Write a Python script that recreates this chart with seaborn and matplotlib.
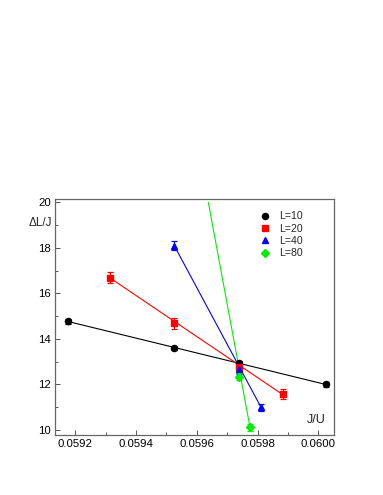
import numpy as np
import pandas as pd
import seaborn as sns
import matplotlib
matplotlib.use("Agg")
import matplotlib.pyplot as plt

# datos
x_L10 = [0.059176, 0.059524, 0.059738, 0.060024]
y_L10 = [14.77, 13.60, 12.93, 12.00]
e_L10 = [0.12, 0.09, 0.10, 0.10]

x_L20 = [0.059314, 0.059524, 0.059738, 0.059882]
y_L20 = [16.69, 14.68, 12.76, 11.56]
e_L20 = [0.24, 0.24, 0.24, 0.22]

x_L40 = [0.059526, 0.059738, 0.059811]
y_L40 = [18.10, 12.66, 11.00]
e_L40 = [0.20, 0.20, 0.16]

x_L80 = [0.059738, 0.059775]
y_L80 = [12.35, 10.11]
e_L80 = [0.16, 0.14]

# extremos de las rectas de ajuste
fit_x = {"L=10": [0.059176, 0.060024], "L=20": [0.059314, 0.059882],
         "L=40": [0.059526, 0.059811], "L=80": [0.059638, 0.059775]}
fit_y = {"L=10": [14.77, 12.00], "L=20": [16.69, 11.56],
         "L=40": [18.10, 11.00], "L=80": [20.0, 10.11]}

series = ["L=10", "L=20", "L=40", "L=80"]
colores = {"L=10": "black", "L=20": "#ff0000", "L=40": "#0000ff", "L=80": "#00ee00"}
marcadores = {"L=10": "o", "L=20": "s", "L=40": "^", "L=80": "D"}
tam = {"L=10": 4.4, "L=20": 4.6, "L=40": 4.6, "L=80": 3.6}

datos = pd.DataFrame({
    "J/U": x_L10 + x_L20 + x_L40 + x_L80,
    "dL": y_L10 + y_L20 + y_L40 + y_L80,
    "err": e_L10 + e_L20 + e_L40 + e_L80,
    "L": ["L=10"] * len(x_L10) + ["L=20"] * len(x_L20) + ["L=40"] * len(x_L40) + ["L=80"] * len(x_L80),
})

sns.set_style("ticks")
plt.rcParams["font.family"] = ["Liberation Sans", "DejaVu Sans"]

fig = plt.figure(figsize=(3.83, 4.95), dpi=100)
ax = fig.add_axes([55 / 383, 1 - 435 / 495, (334 - 55) / 383, (435 - 199) / 495])

for s in series:
    ax.plot(fit_x[s], fit_y[s], color=colores[s], lw=0.8, zorder=2)
    d = datos[datos["L"] == s]
    ax.errorbar(d["J/U"], d["dL"], yerr=d["err"], fmt="none", ecolor=colores[s],
                elinewidth=0.8, capsize=2.2, capthick=0.9, zorder=3)
    ax.plot(d["J/U"], d["dL"], ls="none", marker=marcadores[s], ms=tam[s],
            color=colores[s], zorder=4, label=s)

ax.set_xlim(0.059134, 0.060051)
ax.set_ylim(9.78, 20.15)
ax.set_xticks([0.0592, 0.0594, 0.0596, 0.0598, 0.0600])
ax.set_xticklabels(["0.0592", "0.0594", "0.0596", "0.0598", "0.0600"])
ax.set_xticks(np.arange(0.0593, 0.06, 0.0002), minor=True)
ax.set_yticks([10, 12, 14, 16, 18, 20])
ax.set_yticks([11, 13, 15, 17, 19], minor=True)

ax.tick_params(which="both", direction="in", labelsize=8.2, colors="#555555",
               labelcolor="black", width=0.7)
ax.tick_params(which="major", length=3.5, pad=3)
ax.tick_params(which="minor", length=2)
for sp in ax.spines.values():
    sp.set_color("#666666")
    sp.set_linewidth(0.9)

ax.set_xlabel("")
ax.set_ylabel("")
fig.text(52 / 383, 1 - 223 / 495, "\u0394L/J", ha="right", va="center", fontsize=8.4)
ax.text(0.97, 0.04, "J/U", transform=ax.transAxes, ha="right", va="bottom", fontsize=9)

leg = ax.legend(loc="upper left", bbox_to_anchor=(0.715, 0.965), frameon=False,
                fontsize=7.6, handlelength=1.2, handletextpad=0.7, labelspacing=0.22,
                borderaxespad=0)

fig.savefig("out.png", dpi=100)
